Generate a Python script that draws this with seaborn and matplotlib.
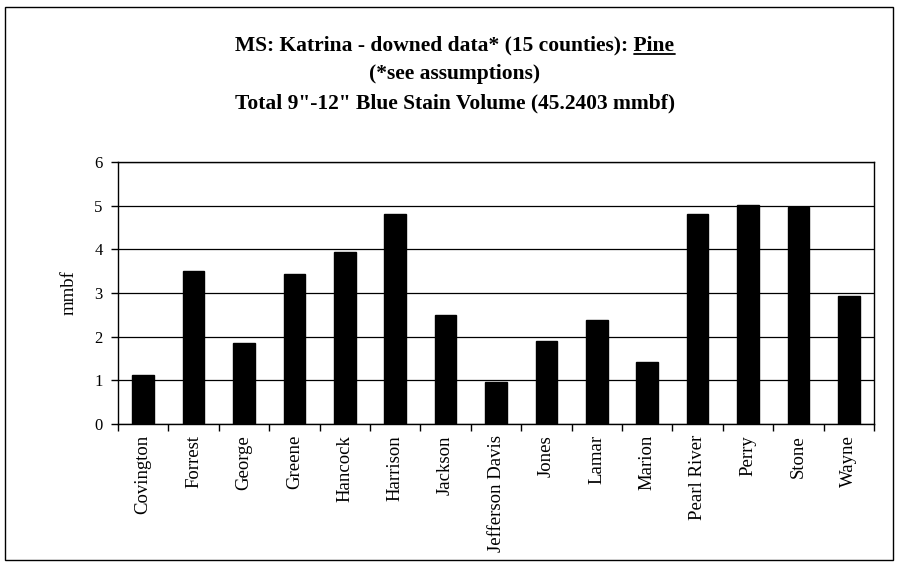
"""
MS Katrina downed pine - 9"-12" blue stain volume by county
"""
import matplotlib
matplotlib.use('Agg')
import matplotlib.pyplot as plt
from matplotlib.patches import Rectangle
from matplotlib.lines import Line2D
import seaborn as sns
import pandas as pd
import numpy as np

counties = ['Covington', 'Forrest', 'George', 'Greene', 'Hancock', 'Harrison',
            'Jackson', 'Jefferson Davis', 'Jones', 'Lamar', 'Marion',
            'Pearl River', 'Perry', 'Stone', 'Wayne']
volume = [1.12, 3.51, 1.86, 3.44, 3.94, 4.81, 2.50, 0.97, 1.91, 2.38, 1.43,
          4.81, 5.01, 4.96, 2.92]
y_ticks = [0, 1, 2, 3, 4, 5, 6]

title_line1 = 'MS: Katrina - downed data* (15 counties): Pine'
title_line2 = '(*see assumptions)'
title_line3 = 'Total 9"-12" Blue Stain Volume (45.2403 mmbf)'

sns.set_style('white')
plt.rcParams['font.family'] = ['Liberation Serif', 'DejaVu Serif']
plt.rcParams['text.color'] = 'black'
plt.rcParams['xtick.color'] = 'black'
plt.rcParams['ytick.color'] = 'black'
plt.rcParams['axes.labelcolor'] = 'black'

df = pd.DataFrame({'county': counties, 'mmbf': volume})

fig = plt.figure(figsize=(9.01, 5.67), dpi=100)
ax = fig.add_axes([118 / 901, 1 - 424 / 567, (874 - 118) / 901, (424 - 162) / 567])

sns.barplot(data=df, x='county', y='mmbf', color='black', width=0.43,
            saturation=1, ax=ax, edgecolor='black')

ax.set_ylim(0, 6)
ax.set_xlim(-0.5, len(counties) - 0.5)
ax.set_yticks(y_ticks)
ax.set_yticklabels([str(t) for t in y_ticks], fontsize=12)
ax.yaxis.grid(True, color='black', linewidth=0.9)
ax.set_axisbelow(True)

# category labels in the middle, tick marks on the boundaries (excel style)
ax.set_xticks(np.arange(len(counties)))
ax.set_xticklabels(counties, rotation=90, fontsize=13.5)
ax.set_xticks(np.arange(len(counties) + 1) - 0.5, minor=True)
ax.tick_params(axis='x', which='major', length=0, pad=8, bottom=True)
ax.tick_params(axis='x', which='minor', length=5, width=1, color='black',
               direction='out', bottom=True)
ax.tick_params(axis='y', length=5, width=1, color='black', direction='out',
               pad=6, left=True)

ax.set_xlabel('')
ax.set_ylabel('mmbf', fontsize=13.5, labelpad=12)

for spine in ax.spines.values():
    spine.set_visible(True)
    spine.set_color('black')
    spine.set_linewidth(1)

# titles
cx = 455 / 901
tsize = 15.5
t1 = fig.text(cx, 1 - 45 / 567, title_line1, ha='center', va='center',
              fontsize=tsize, fontweight='bold')
fig.text(cx, 1 - 74 / 567, title_line2, ha='center', va='center',
         fontsize=tsize, fontweight='bold')
fig.text(cx, 1 - 103 / 567, title_line3, ha='center', va='center',
         fontsize=tsize, fontweight='bold')

# underline "Pine"
fig.canvas.draw()
renderer = fig.canvas.get_renderer()
bb = t1.get_window_extent(renderer)
probe = fig.text(0, 0, 'Pine', fontsize=tsize, fontweight='bold')
pw = probe.get_window_extent(renderer).width
probe.remove()
W, H = fig.get_size_inches() * fig.dpi
uy = (bb.y0 + 1) / H
fig.add_artist(Line2D([(bb.x1 - pw) / W, bb.x1 / W], [uy, uy],
                      color='black', linewidth=1.3, transform=fig.transFigure))

# outer chart border
fig.add_artist(Rectangle((5 / 901, 7 / 567), 888 / 901, 553 / 567, fill=False,
                         edgecolor='black', linewidth=1, transform=fig.transFigure))

fig.savefig('out.png', dpi=100)
